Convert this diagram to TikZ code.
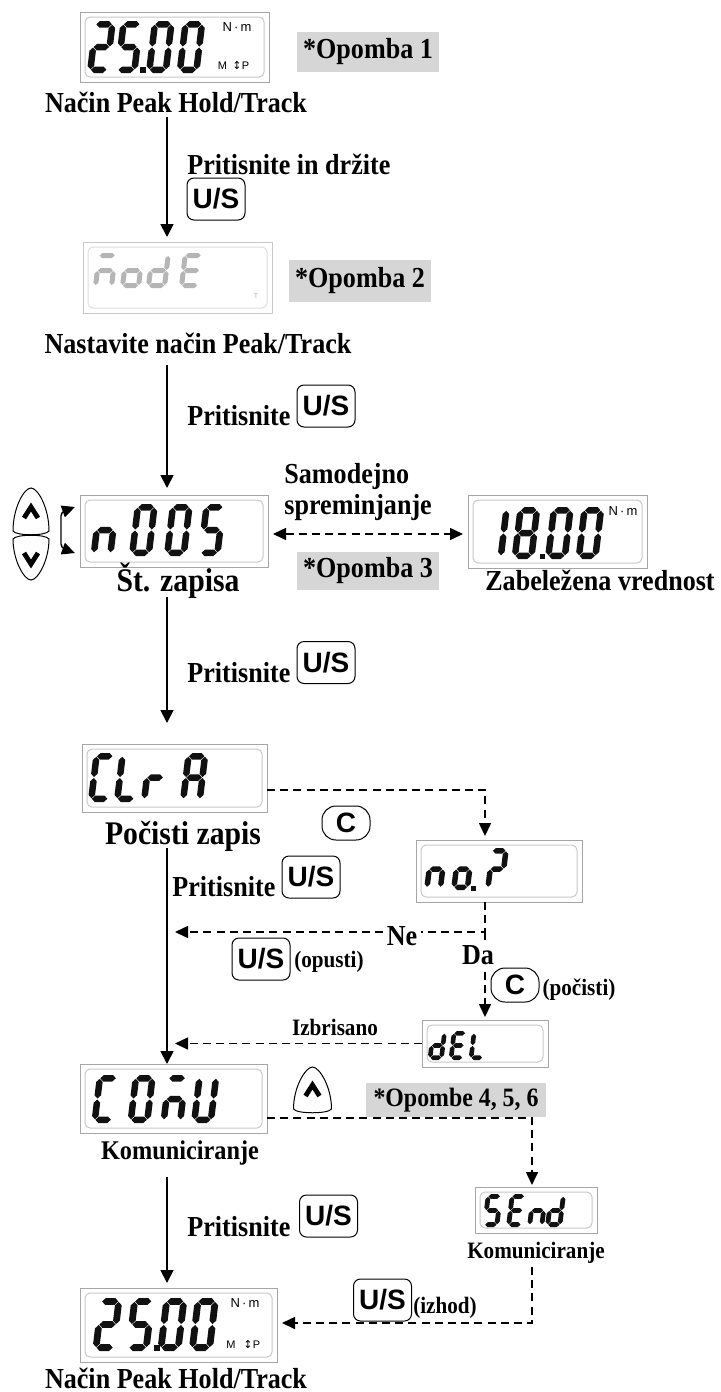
\documentclass[tikz,border=0pt]{standalone}
\usepackage{fontspec}
\setmainfont{Liberation Serif}
\setsansfont{Liberation Sans}
\newfontfamily\lab{Liberation Serif}[FakeStretch=0.9]
\newfontfamily\dejavu{DejaVu Sans}
\usetikzlibrary{arrows.meta,fit,calc}

\definecolor{boxgray}{HTML}{A6A6A6}
\definecolor{innergray}{HTML}{C8C8C8}
\definecolor{notegray}{HTML}{D6D6D6}
\definecolor{fadegray}{HTML}{B5B5B5}
\definecolor{lcd}{HTML}{111111}

% seven segment helpers (units: px of reference, y downwards)
\newcommand\hsg[3]{\fill ({#2+\dG},{#1}) -- ({#2+\dG+\dT/2},{#1-\dT/2}) -- ({#3-\dG-\dT/2},{#1-\dT/2}) -- ({#3-\dG},{#1}) -- ({#3-\dG-\dT/2},{#1+\dT/2}) -- ({#2+\dG+\dT/2},{#1+\dT/2}) -- cycle;}
\newcommand\vsg[3]{\fill ({#1},{#2+\dG}) -- ({#1+\dT/2},{#2+\dG+\dT/2}) -- ({#1+\dT/2},{#3-\dG-\dT/2}) -- ({#1},{#3-\dG}) -- ({#1-\dT/2},{#3-\dG-\dT/2}) -- ({#1-\dT/2},{#2+\dG+\dT/2}) -- cycle;}
\def\sga{\hsg{\dT/2}{\dT/2}{\dW-\dT/2}}
\def\sgb{\vsg{\dW-\dT/2}{\dT/2}{\dH/2}}
\def\sgc{\vsg{\dW-\dT/2}{\dH/2}{\dH-\dT/2}}
\def\sgd{\hsg{\dH-\dT/2}{\dT/2}{\dW-\dT/2}}
\def\sge{\vsg{\dT/2}{\dH/2}{\dH-\dT/2}}
\def\sgf{\vsg{\dT/2}{\dT/2}{\dH/2}}
\def\sgg{\hsg{\dH/2}{\dT/2}{\dW-\dT/2}}
\newcommand\dig[3]{\begin{scope}[shift={(#1,#2)},xslant=0.12]\foreach \s in {#3}{\csname sg\s\endcsname}\end{scope}}
\newcommand\dispbox[5]{\node[disp, fit={(#2,#3) (#4,#5)}] (#1) {};
  \draw[innergray, line width=0.5pt, rounded corners=2.5pt] ({#2+5},{#3+5}) rectangle ({#4-5},{#5-5});}
\newcommand\upbtn[4]{\draw[line width=0.5pt] ({#1-#4},{#3-4}) .. controls ({#1-#4},{#2+20}) and ({#1-7},{#2}) .. ({#1},{#2}) .. controls ({#1+7},{#2}) and ({#1+#4},{#2+20}) .. ({#1+#4},{#3-4}) .. controls ({#1+#4-3},{#3+1}) and ({#1-#4+3},{#3+1}) .. ({#1-#4},{#3-4}) -- cycle;}
\newcommand\dnbtn[4]{\draw[line width=0.5pt] ({#1-#4},{#2+4}) .. controls ({#1-#4+3},{#2-1}) and ({#1+#4-3},{#2-1}) .. ({#1+#4},{#2+4}) .. controls ({#1+#4},{#3-20}) and ({#1+7},{#3}) .. ({#1},{#3}) .. controls ({#1-7},{#3}) and ({#1-#4},{#3-20}) .. ({#1-#4},{#2+4}) -- cycle;}

\tikzset{
  lbl/.style={font=\lab\bfseries\fontsize{14.5}{16}\selectfont, inner sep=0pt},
  blbl/.style={font=\lab\bfseries\fontsize{16.5}{18}\selectfont, inner sep=0pt},
  slbl/.style={font=\lab\bfseries\fontsize{11.75}{13}\selectfont, inner sep=0pt},
  note/.style={fill=notegray, font=\lab\bfseries\fontsize{14.5}{16}\selectfont, inner xsep=3pt, inner ysep=0pt, minimum height=20pt},
  btn/.style={draw, line width=0.5pt, rounded corners=3.5pt, font=\sffamily\bfseries\fontsize{14}{14}\selectfont, inner sep=0pt, minimum width=29pt, minimum height=21pt},
  cbtn/.style={btn, minimum width=24pt, minimum height=17pt, rounded corners=7pt},
  disp/.style={draw=boxgray, line width=0.5pt, inner sep=0pt, outer sep=0pt},
  arr/.style={line width=0.9pt, -{Triangle[length=6.5pt,width=6.5pt]}},
  darr/.style={line width=0.8pt, dash pattern=on 4pt off 2.6pt, -{Triangle[length=6.5pt,width=6pt]}},
  dline/.style={line width=0.8pt, dash pattern=on 4pt off 2.6pt},
  units/.style={font=\sffamily\fontsize{6.5}{7}\selectfont, inner sep=0pt},
  sunits/.style={font=\sffamily\fontsize{5.5}{6}\selectfont, inner sep=0pt},
}

\begin{document}
\begin{tikzpicture}[x=0.5pt,y=-0.5pt]
\useasboundingbox (0,0) rectangle (720,1392);
\fill[white] (0,0) rectangle (720,1392);

% ---------- display 1 : 25.00
\dispbox{D1}{80}{12}{269}{82}
\begin{scope}[lcd]
\def\dW{23}\def\dH{52}\def\dT{6.5}\def\dG{0.5}
\dig{93}{21}{a,b,g,e,d}
\dig{120.6}{21}{a,f,g,c,d}
\dig{152}{21}{a,b,c,d,e,f}
\dig{182.6}{21}{a,b,c,d,e,f}
\fill (140,67) rectangle (145.5,72.5);
\end{scope}
\node[units] (U1) at (237,27) {N\,·\,m};
\node[sunits] (U2) at (222.5,66) {M};
\node[font=\dejavu\fontsize{5.5}{6}\selectfont, inner sep=0pt] (U3) at (237,66) {↕};
\node[sunits] (U4) at (245.5,66) {P};
\node[note] (O1) at (368,52) {*Opomba 1};
\node[lbl] (T1) at (176,102) {Način Peak Hold/Track};

\coordinate (a1) at (167,117);
\draw[arr, shorten >=2.5pt] (a1) -- (a1 |- 0,242);
\node[lbl, anchor=west] (T2) at (187,164) {Pritisnite in držite};
\node[btn] (B1) at (216,199) {U/S};

% ---------- display 2 : mode (faded)
\node[disp, draw=innergray, fit={(83,242) (272,313)}] (D2) {};
\draw[innergray!60, line width=0.5pt, rounded corners=2.5pt] (88,247) rectangle (267,308);
\begin{scope}[fadegray]
\def\dW{21}\def\dH{35}\def\dT{5}\def\dG{0.5}
\dig{97}{253}{a,c,e,g}
\dig{124}{253}{c,d,e,g}
\dig{150}{253}{b,c,d,e,g}
\dig{183}{253}{a,d,e,f,g}
\end{scope}
\node[font=\sffamily\fontsize{3.5}{4}\selectfont, text=fadegray, inner sep=0pt] (U9) at (256,296) {T};
\node[note, minimum height=21pt] (O2) at (360,281) {*Opomba 2};
\node[lbl] (T3) at (198,343) {Nastavite način Peak/Track};

\coordinate (a2) at (167,365);
\draw[arr, shorten >=3.5pt] (a2) -- (a2 |- 0,495);
\node[lbl, anchor=west] (T4) at (187,416) {Pritisnite};
\node[btn] (B2) at (326,406) {U/S};

% ---------- display 3 : n005
\dispbox{D3}{80}{495}{268}{567}
\begin{scope}[lcd]
\def\dW{23}\def\dH{52}\def\dT{6.5}\def\dG{0.5}
\dig{96.6}{504}{c,e,g}
\dig{135}{504}{a,b,c,d,e,f}
\dig{170}{504}{a,b,c,d,e,f}
\dig{203.6}{504}{a,f,g,c,d}
\end{scope}
% up / down keys
\upbtn{31}{488}{535}{18}
\dnbtn{31}{535}{580}{18}
\draw[line width=2.4pt, line join=miter] (24,518) -- (31,507) -- (38,518);
\draw[line width=2.4pt, line join=miter] (24,553) -- (31,564) -- (38,553);
\draw[line width=0.7pt, rounded corners=2pt, {Triangle[length=6.5pt,width=6pt]}-{Triangle[length=6.5pt,width=6pt]}] (75,507) -- (61,512) -- (61,548) -- (75,553);

\node[lbl, anchor=west] (T5) at (284,477) {Samodejno};
\node[lbl, anchor=west] (T6) at (284,508) {spreminjanje};
\node[note, minimum height=19pt] (O3) at (368,571) {*Opomba 3};
\node[blbl] (T7) at (178,581) {Št. zapisa};

% ---------- display 4 : 18.00
\dispbox{D4}{468}{495}{647}{568}
\begin{scope}[lcd]
\def\dW{23}\def\dH{52}\def\dT{6.5}\def\dG{0.5}
\dig{487}{507}{b,c}
\dig{517.6}{507}{a,b,c,d,e,f,g}
\dig{551}{507}{a,b,c,d,e,f}
\dig{581.6}{507}{a,b,c,d,e,f}
\fill (539.5,553.5) rectangle (545,559);
\end{scope}
\node[units] (U5) at (623,511) {N\,·\,m};
\node[lbl] (T8) at (600,580) {Zabeležena vrednost};
\draw[dline, {Triangle[length=6.5pt,width=6pt]}-{Triangle[length=6.5pt,width=6pt]}, shorten <=2.5pt, shorten >=2.5pt] ($(D3.east)+(0,3)$) -- ($(D4.west)+(0,2.5)$);

\coordinate (a3) at (167,597);
\draw[arr, shorten >=10.5pt] (a3) -- (a3 |- 0,744);
\node[lbl, anchor=west] (T9) at (187,673) {Pritisnite};
\node[btn] (B3) at (326,662.5) {U/S};

% ---------- display 5 : CLrA
\dispbox{D5}{82}{744}{267}{812}
\begin{scope}[lcd]
\def\dW{23}\def\dH{49}\def\dT{6.5}\def\dG{0.5}
\dig{93.6}{753}{a,d,e,f}
\dig{119.6}{753}{d,e,f}
\dig{146.6}{753}{e,g}
\dig{185.6}{753}{a,b,c,e,f,g}
\end{scope}
\node[blbl] (T10) at (183,836) {Počisti zapis};
\node[cbtn] (C1) at (346,823) {C};

% ---------- display 6 : no.?
\dispbox{D6}{416}{840}{582}{902}
\begin{scope}[lcd]
\def\dW{19}\def\dH{42}\def\dT{5.5}\def\dG{0.5}
\dig{429}{848}{c,e,g}
\dig{456}{848}{c,d,e,g}
\dig{490}{848}{a,b,g,e}
\fill (470.5,885.5) rectangle (475.5,890.5);
\end{scope}
\coordinate (k1) at (485,790);
\draw[darr, shorten >=2pt] (D5.east |- k1) -- (k1) -- (k1 |- D6.north);

\node[lbl, anchor=west] (T11) at (172,887) {Pritisnite};
\node[btn] (B4) at (311,877) {U/S};

% ---------- Ne / Da branch
\coordinate (k2) at (485,932);
\coordinate (k3) at (175,932);
\draw[darr] (k2 |- D6.south) -- (k2) -- (k3);
\node[lbl, fill=white, inner xsep=2pt, inner ysep=0.5pt] (Ne) at (402,936) {Ne};
\node[btn] (B5) at (261,959) {U/S};
\node[slbl] (T12) at (329,962) {(opusti)};

% ---------- display 7 : dEL
\dispbox{D7}{422}{1020}{548}{1067}
\begin{scope}[lcd]
\def\dW{16}\def\dH{29}\def\dT{4.6}\def\dG{0.4}
\dig{431}{1031}{b,c,d,e,g}
\dig{452}{1031}{a,d,e,f,g}
\dig{472}{1031}{d,e,f}
\end{scope}
\draw[darr, shorten >=1.5pt] (k2) -- (k2 |- D7.north);
\node[lbl, fill=white, inner xsep=1pt, inner ysep=1pt] (Da) at (478,955) {Da};
\node[cbtn] (C2) at (515,985) {C};
\node[slbl] (T13) at (579,990) {(počisti)};
\draw[darr] (D7.west) -- (D7.west -| k3);
\node[slbl] (T14) at (335,1027) {Izbrisano};

% ---------- display 8 : COMU
\dispbox{D8}{80}{1064}{267}{1133}
\begin{scope}[lcd]
\def\dW{23}\def\dH{48}\def\dT{6.5}\def\dG{0.5}
\dig{97}{1075}{a,d,e,f}
\dig{133}{1075}{a,b,c,d,e,f}
\dig{166}{1075}{a,c,e,g}
\dig{196.6}{1075}{b,c,d,e,f}
\end{scope}
\coordinate (a4) at (167,848);
\draw[arr] (a4) -- (a4 |- D8.north);
\node[lbl, font=\lab\bfseries\fontsize{13.5}{15}\selectfont] (T15) at (180,1153) {Komuniciranje};
\upbtn{312.5}{1067}{1113}{19}
\draw[line width=2.4pt, line join=miter] (305.5,1096) -- (312.5,1085) -- (319.5,1096);
\node[note, font=\lab\bfseries\fontsize{13.25}{15}\selectfont, inner xsep=4pt, minimum height=17pt] (O4) at (456,1100) {*Opombe 4, 5, 6};

% ---------- display 9 : SEnd
\dispbox{D9}{475}{1187}{597}{1233}
\begin{scope}[lcd]
\def\dW{17}\def\dH{33}\def\dT{4.8}\def\dG{0.4}
\dig{486}{1194}{a,f,g,c,d}
\dig{510}{1194}{a,d,e,f,g}
\dig{531}{1194}{c,e,g}
\dig{549}{1194}{b,c,d,e,g}
\end{scope}
\coordinate (k4) at (532,1118);
\draw[darr, shorten >=1pt] (D8.east |- k4) -- (k4) -- (k4 |- D9.north);
\node[slbl] (T16) at (536,1253) {Komuniciranje};

\coordinate (a5) at (167,1177);
\node[lbl, anchor=west] (T17) at (187,1227) {Pritisnite};
\node[btn] (B7) at (328.5,1216) {U/S};

% ---------- display 10 : 25.00
\dispbox{D10}{80}{1288}{277}{1362}
\begin{scope}[lcd]
\def\dW{24}\def\dH{53}\def\dT{6.8}\def\dG{0.5}
\dig{98.6}{1298}{a,b,g,e,d}
\dig{131.6}{1298}{a,f,g,c,d}
\dig{163.6}{1298}{a,b,c,d,e,f}
\dig{195}{1298}{a,b,c,d,e,f}
\fill (154,1345) rectangle (159.5,1350.5);
\end{scope}
\node[units] (U6) at (245,1303) {N\,·\,m};
\node[sunits] (U7) at (231,1345) {M};
\node[font=\dejavu\fontsize{5.5}{6}\selectfont, inner sep=0pt] (U8) at (248,1345) {↕};
\node[sunits] (U10) at (256.5,1345) {P};
\draw[arr, shorten >=2.5pt] (a5) -- (a5 |- D10.north);

\coordinate (k5) at (532,1267);
\coordinate (k6) at (532,1323);
\draw[darr, shorten >=2.5pt] (k5) -- (k6) -- (k6 -| D10.east);
\node[btn] (B6) at (382.5,1300) {U/S};
\node[slbl] (T18) at (445,1308) {(izhod)};
\node[lbl] (T19) at (176,1378) {Način Peak Hold/Track};
\end{tikzpicture}
\end{document}
